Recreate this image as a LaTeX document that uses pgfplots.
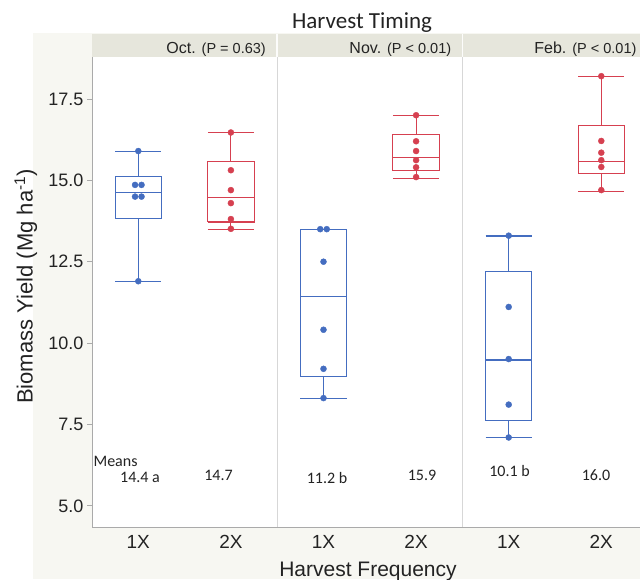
\documentclass[border=0pt]{standalone}
\usepackage{fontspec}
\setmainfont{Liberation Sans}
\newfontfamily\carlito{Carlito}
\usepackage{pgfplots}
\pgfplotsset{compat=1.18}
\definecolor{bxblue}{RGB}{68,109,192}
\definecolor{bxred}{RGB}{214,64,80}
\definecolor{bggray}{RGB}{247,247,242}
\definecolor{stripgray}{RGB}{230,230,220}
\definecolor{axgray}{RGB}{170,170,170}
\definecolor{sepgray}{RGB}{215,215,215}
\definecolor{txt}{RGB}{35,35,35}
\begin{document}
\begin{tikzpicture}[x=1pt,y=1pt]
\useasboundingbox (0,0) rectangle (640,579);
\fill[white] (0,0) rectangle (640,579);
\fill[bggray] (33,0) rectangle (640,546);
\fill[stripgray] (92,521.7) rectangle (648,545);
\draw[white!90!stripgray, line width=1.5pt] (277.2,521.7) -- (277.2,545);
\draw[white!90!stripgray, line width=1.5pt] (462.4,521.7) -- (462.4,545);
\begin{axis}[
  at={(92pt,52pt)}, anchor=south west, scale only axis,
  width=555.6pt, height=469.7pt,
  xmin=-0.5, xmax=5.5, ymin=4.35, ymax=18.78,
  axis x line*=bottom, axis y line*=left,
  axis line style={axgray, line width=1pt, -},
  axis background/.style={fill=white},
  xtick={0,...,5}, xticklabels={1X,2X,1X,2X,1X,2X},
  ytick={5,7.5,10,12.5,15,17.5},
  /pgf/number format/fixed, /pgf/number format/fixed zerofill, /pgf/number format/precision=1,
  /pgf/number format/assume math mode=true,
  y tick label style={font=\fontsize{18}{18}\selectfont, text=txt},
  x tick label style={font=\fontsize{19}{19}\selectfont, text=txt},
  major tick length=5pt, tick align=outside,
  y tick style={axgray, line width=0.8pt},
  x tick style={draw=none},
  clip=false,
  unbounded coords=jump,
  box/.style={line width=1.05pt, line join=miter, mark=none},
]
\draw[sepgray, line width=1pt] (axis cs:1.5,4.35) -- (axis cs:1.5,18.78);
\draw[sepgray, line width=1pt] (axis cs:3.5,4.35) -- (axis cs:3.5,18.78);
% Oct 1X: UW 15.88, UQ 15.13, Med 14.64, LQ 13.83, LW 11.9
\addplot[box, bxblue] coordinates {
 (-0.25,15.88) (0.25,15.88) (0,nan) (0,15.88) (0,15.13) (0,nan)
 (-0.25,13.83) (0.25,13.83) (0.25,15.13) (-0.25,15.13) (-0.25,13.83) (0,nan)
 (-0.25,14.64) (0.25,14.64) (0,nan) (0,13.83) (0,11.9) (0,nan)
 (-0.25,11.9) (0.25,11.9)};
% Oct 2X: UW 16.47, UQ 15.58, Med 14.48, LQ 13.72, LW 13.5
\addplot[box, bxred] coordinates {
 (0.75,16.47) (1.25,16.47) (1,nan) (1,16.47) (1,15.58) (1,nan)
 (0.75,13.72) (1.25,13.72) (1.25,15.58) (0.75,15.58) (0.75,13.72) (1,nan)
 (0.75,14.48) (1.25,14.48) (1,nan) (1,13.72) (1,13.5) (1,nan)
 (0.75,13.5) (1.25,13.5)};
% Nov 1X: UW 13.5, UQ 13.5, Med 11.43, LQ 8.97, LW 8.31
\addplot[box, bxblue] coordinates {
 (1.75,13.5) (2.25,13.5) (2,nan)
 (1.75,8.97) (2.25,8.97) (2.25,13.5) (1.75,13.5) (1.75,8.97) (2,nan)
 (1.75,11.43) (2.25,11.43) (2,nan) (2,8.97) (2,8.31) (2,nan)
 (1.75,8.31) (2.25,8.31)};
% Nov 2X: UW 17.0, UQ 16.40, Med 15.69, LQ 15.30, LW 15.07
\addplot[box, bxred] coordinates {
 (2.75,17.0) (3.25,17.0) (3,nan) (3,17.0) (3,16.40) (3,nan)
 (2.75,15.30) (3.25,15.30) (3.25,16.40) (2.75,16.40) (2.75,15.30) (3,nan)
 (2.75,15.69) (3.25,15.69) (3,nan) (3,15.30) (3,15.07) (3,nan)
 (2.75,15.07) (3.25,15.07)};
% Feb 1X: UW 13.29, UQ 12.2, Med 9.48, LQ 7.61, LW 7.09
\addplot[box, bxblue] coordinates {
 (3.75,13.29) (4.25,13.29) (4,nan) (4,13.29) (4,12.2) (4,nan)
 (3.75,7.61) (4.25,7.61) (4.25,12.2) (3.75,12.2) (3.75,7.61) (4,nan)
 (3.75,9.48) (4.25,9.48) (4,nan) (4,7.61) (4,7.09) (4,nan)
 (3.75,7.09) (4.25,7.09)};
% Feb 2X: UW 18.2, UQ 16.68, Med 15.59, LQ 15.21, LW 14.67
\addplot[box, bxred] coordinates {
 (4.75,18.2) (5.25,18.2) (5,nan) (5,18.2) (5,16.68) (5,nan)
 (4.75,15.21) (5.25,15.21) (5.25,16.68) (4.75,16.68) (4.75,15.21) (5,nan)
 (4.75,15.59) (5.25,15.59) (5,nan) (5,15.21) (5,14.67) (5,nan)
 (4.75,14.67) (5.25,14.67)};
% points
\addplot[only marks, mark=*, mark size=3pt, bxblue] coordinates {
 (0,15.9) (-0.035,14.86) (0.035,14.86) (-0.035,14.5) (0.035,14.5) (0,11.9)
 (1.965,13.5) (2.035,13.5) (2,12.5) (2,10.41) (2,9.21) (2,8.31)
 (4,13.3) (4,11.11) (4,9.51) (4,8.11) (4,7.1)};
\addplot[only marks, mark=*, mark size=3pt, bxred] coordinates {
 (1,16.47) (1,15.31) (1,14.70) (1,14.30) (1,13.81) (1,13.51)
 (3,17.0) (3,16.2) (3,15.9) (3,15.62) (3,15.4) (3,15.1)
 (5,18.2) (5,16.21) (5,15.85) (5,15.62) (5,15.41) (5,14.7)};
% means
\begin{scope}[every node/.style={font=\carlito\fontsize{16}{16}\selectfont, text=txt}]
\node[anchor=west, inner sep=0pt] at (axis cs:-0.485,6.35) {Means};
\node at (axis cs:0.018,5.87) {14.4 a};
\node at (axis cs:0.866,5.95) {14.7};
\node at (axis cs:2.038,5.85) {11.2 b};
\node at (axis cs:3.064,5.95) {15.9};
\node at (axis cs:4.009,6.08) {10.1 b};
\node at (axis cs:4.943,5.95) {16.0};
\end{scope}
\end{axis}
% strip labels
\node[anchor=base east, inner sep=0pt, text=txt] at (266,525.7) {\fontsize{16}{16}\selectfont Oct. \fontsize{14.5}{14.5}\selectfont(P = 0.63)};
\node[anchor=base east, inner sep=0pt, text=txt] at (451.4,525.7) {\fontsize{16}{16}\selectfont Nov. \fontsize{14.5}{14.5}\selectfont(P < 0.01)};
\node[anchor=base east, inner sep=0pt, text=txt] at (636.6,525.7) {\fontsize{16}{16}\selectfont Feb. \fontsize{14.5}{14.5}\selectfont(P < 0.01)};
% titles
\node[anchor=base, inner sep=0pt, text=txt, font=\carlito\fontsize{23}{23}\selectfont] at (362,550.7) {Harvest Timing};
\node[anchor=base, inner sep=0pt, text=txt, font=\fontsize{21}{21}\selectfont] at (368,3) {Harvest Frequency};
\node[anchor=base, rotate=90, inner sep=0pt, text=txt, font=\fontsize{22}{22}\selectfont] at (32.7,292.5) {Biomass Yield (Mg ha\textsuperscript{-1})};
\end{tikzpicture}
\end{document}
